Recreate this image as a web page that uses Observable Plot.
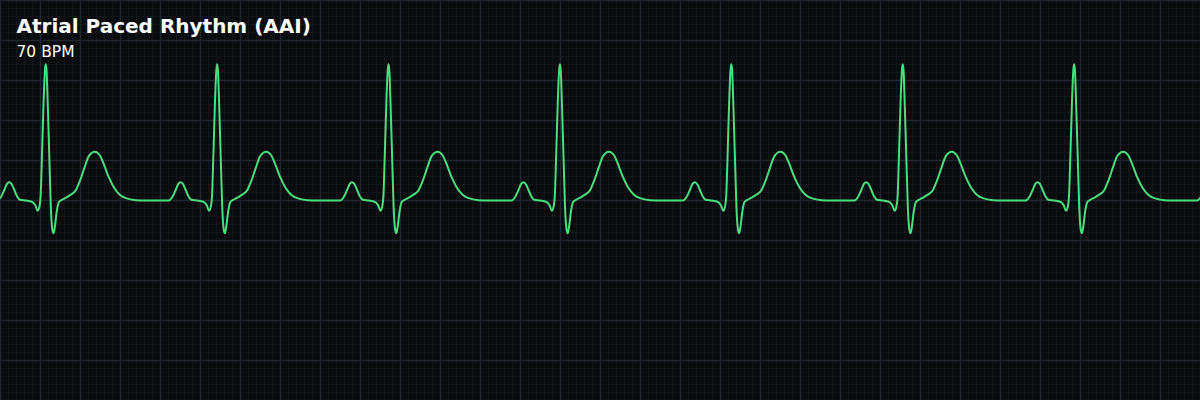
<!DOCTYPE html>
<html>
<head>
<meta charset="utf-8">
<script src="https://cdn.jsdelivr.net/npm/d3@7"></script>
<script src="https://cdn.jsdelivr.net/npm/@observablehq/plot@0.6"></script>
<style>
  html, body { margin: 0; padding: 0; background: #0a0b0d; }
  #chart { width: 1200px; height: 400px; }
</style>
</head>
<body>
<div id="chart"></div>
<script>
// ---- Data ----
const title = "Atrial Paced Rhythm (AAI)";
const subtitle = "70 BPM";

// Times of the R peaks (s); 70 BPM → one beat every ~0.857 s
const rPeakTimes = [0.2265, 1.0835, 1.9405, 2.7975, 3.6545, 4.5115, 5.3685, 6.2255];

// One beat: offset from R peak (s) and amplitude (mV)
const beatOffsets = [
  -0.242, -0.222, -0.206, -0.1935, -0.1835, -0.1725, -0.159, -0.144, -0.129, -0.100,
  -0.070, -0.0525, -0.041, -0.0325, -0.026, -0.0185, -0.011, -0.004, 0, 0.004,
  0.010, 0.0175, 0.025, 0.0325, 0.039, 0.045, 0.055, 0.065, 0.0775, 0.100,
  0.125, 0.150, 0.170, 0.1925, 0.215, 0.245, 0.270, 0.290, 0.315, 0.340,
  0.370, 0.400, 0.450, 0.500, 0.615
];
const beatValues = [
  0, 0.054, 0.141, 0.210, 0.229, 0.210, 0.141, 0.054, 0.010, 0,
  -0.015, -0.059, -0.128, -0.084, 0.054, 0.616, 1.241, 1.641, 1.704, 1.616,
  1.179, 0.554, -0.071, -0.359, -0.409, -0.334, -0.134, -0.021, 0.004, 0.035,
  0.073, 0.129, 0.241, 0.404, 0.554, 0.610, 0.566, 0.454, 0.291, 0.166,
  0.073, 0.029, 0.004, 0, 0
];

// Paper grid: major 0.2 s / 0.5 mV, minor 0.04 s / 0.1 mV
const xMajor = d3.range(0, 6.0001, 0.2);
const xMinor = d3.range(0, 6.0001, 0.04);
const yMajor = d3.range(-2.5, 2.5001, 0.5);
const yMinor = d3.range(-2.5, 2.5001, 0.1);

// ---- Build the trace table ----
const trace = rPeakTimes.flatMap((r, beat) =>
  beatOffsets.map((dt, i) => ({ beat, t: r + dt, mv: beatValues[i] }))
);

const chart = Plot.plot({
  width: 1200,
  height: 400,
  margin: 0,
  style: { background: "#0a0b0d", overflow: "visible" },
  x: { domain: [0, 6], axis: null },
  y: { domain: [-2.5, 2.5], axis: null },
  marks: [
    Plot.ruleX(xMinor, { stroke: "#111418", strokeWidth: 1 }),
    Plot.ruleY(yMinor, { stroke: "#111418", strokeWidth: 1 }),
    Plot.ruleX(xMajor, { stroke: "#20262d", strokeWidth: 1.5 }),
    Plot.ruleY(yMajor, { stroke: "#20262d", strokeWidth: 1.5 }),
    Plot.line(trace, {
      x: "t", y: "mv",
      stroke: "#4ade80", strokeWidth: 2,
      curve: "monotone-x", clip: true
    }),
    Plot.text([title], {
      frameAnchor: "top-left", textAnchor: "start", lineAnchor: "top",
      dx: 16, dy: 18, fill: "#ffffff", fontSize: 20, fontWeight: "bold",
      fontFamily: "DejaVu Sans"
    }),
    Plot.text([subtitle], {
      frameAnchor: "top-left", textAnchor: "start", lineAnchor: "top",
      dx: 16, dy: 45, fill: "#ffffff", fontSize: 15.5,
      fontFamily: "DejaVu Sans"
    })
  ]
});
document.getElementById("chart").appendChild(chart);
</script>
</body>
</html>
